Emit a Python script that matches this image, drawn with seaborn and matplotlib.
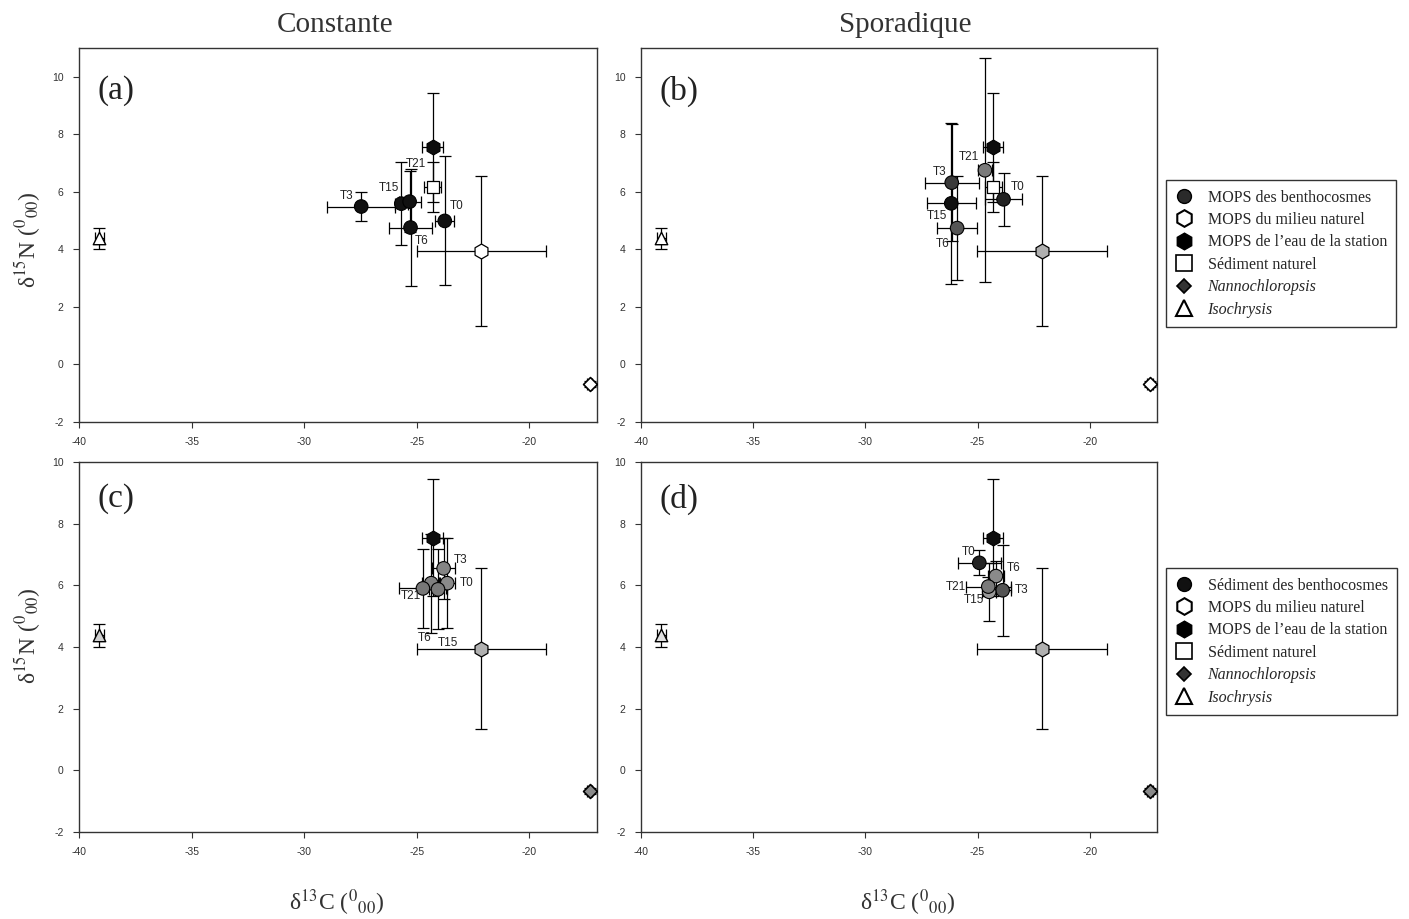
import numpy as np
import pandas as pd
import matplotlib
matplotlib.use("Agg")
import matplotlib.pyplot as plt
from matplotlib.lines import Line2D
import seaborn as sns

# ---------------- data ----------------
times = ["T0", "T3", "T6", "T15", "T21"]

# reference points (same in every panel)
station_x, station_y, station_xerr, station_yerr = -24.30, 7.55, 0.45, 1.90
sednat_x, sednat_y, sednat_xerr, sednat_yerr = -24.30, 6.17, 0.37, 0.87
milieu_x, milieu_y, milieu_xerr, milieu_yerr = -22.13, 3.95, 2.88, 2.60
nanno_x, nanno_y, nanno_xerr, nanno_yerr = -17.32, -0.67, 0.12, 0.10
iso_x, iso_y, iso_xerr, iso_yerr = -39.10, 4.38, 0.20, 0.37

# benthocosm series per panel (order: T0, T3, T6, T15, T21)
a_x = [-23.76, -27.47, -25.28, -25.69, -25.32]
a_y = [4.99, 5.49, 4.76, 5.59, 5.66]
a_xerr = [0.43, 1.50, 0.97, 0.30, 0.49]
a_yerr = [2.24, 0.51, 2.02, 1.45, 1.05]

b_x = [-23.84, -26.15, -25.91, -26.17, -24.67]
b_y = [5.74, 6.32, 4.74, 5.60, 6.75]
b_xerr = [0.81, 1.20, 0.88, 1.10, 0.30]
b_yerr = [0.92, 2.04, 1.80, 2.80, 3.90]

c_x = [-23.65, -23.81, -24.36, -24.06, -24.73]
c_y = [6.07, 6.55, 6.07, 5.87, 5.90]
c_xerr = [0.35, 0.50, 0.40, 0.40, 1.04]
c_yerr = [1.46, 1.00, 1.60, 1.30, 1.27]

d_x = [-24.92, -23.88, -24.18, -24.48, -24.52]
d_y = [6.73, 5.84, 6.30, 5.79, 5.96]
d_xerr = [0.96, 0.37, 0.35, 0.30, 1.00]
d_yerr = [0.40, 1.47, 0.50, 0.95, 0.30]

x_ticks = [-40, -35, -30, -25, -20]
y_ticks = [-2, 0, 2, 4, 6, 8, 10]

titles = ["Constante", "Sporadique"]
panel_tags = ["(a)", "(b)", "(c)", "(d)"]
legend_top = ["MOPS des benthocosmes", "MOPS du milieu naturel",
              "MOPS de l\u2019eau de la station", "Sédiment naturel",
              "Nannochloropsis", "Isochrysis"]
legend_bottom = ["Sédiment des benthocosmes", "MOPS du milieu naturel",
                 "MOPS de l\u2019eau de la station", "Sédiment naturel",
                 "Nannochloropsis", "Isochrysis"]

# ---------------- styles ----------------
sns.set_theme(style="ticks")
plt.rcParams["font.family"] = ["Liberation Sans", "DejaVu Sans"]
plt.rcParams["mathtext.fontset"] = "stix"
SERIF = ["Liberation Serif", "DejaVu Serif"]

W, H = 1409, 919
fig = plt.figure(figsize=(W / 100, H / 100), dpi=100)

def box(l, r, t, b):
    return [l / W, 1 - b / H, (r - l) / W, (b - t) / H]

axes_px = [box(79, 597, 48, 422), box(641, 1157, 48, 422),
           box(79, 597, 462, 832), box(641, 1157, 462, 832)]

bentho = [(a_x, a_y, a_xerr, a_yerr), (b_x, b_y, b_xerr, b_yerr),
          (c_x, c_y, c_xerr, c_yerr), (d_x, d_y, d_xerr, d_yerr)]
bentho_colors = [
    ["#111111"] * 5,
    ["#222222", "#3a3a3a", "#555555", "#111111", "#7a7a7a"],
    ["#8a8a8a", "#858585", "#808080", "#7a7a7a", "#777777"],
    ["#222222", "#555555", "#8a8a8a", "#999999", "#7a7a7a"],
]
milieu_fc = ["white", "#b0b0b0", "#b0b0b0", "#b0b0b0"]
nanno_fc = ["white", "white", "#8a8a8a", "#8a8a8a"]
iso_fc = ["white", "white", "#d0d0d0", "#e0e0e0"]

# label offsets in pixels (T0, T3, T6, T15, T21)
label_off = [
    [(12, 15), (-15, 11), (11, -13), (-12, 16), (6, 38)],
    [(14, 12), (-12, 11), (-14, -16), (-14, -13), (-16, 13)],
    [(19, 0), (17, 8), (-7, -55), (10, -54), (-12, -8)],
    [(-11, 11), (19, 0), (18, 8), (-15, -8), (-32, 0)],
]

err_kw = dict(fmt="none", ecolor="black", elinewidth=0.9, capsize=4,
              capthick=0.9, zorder=2)

for i, rect in enumerate(axes_px):
    ax = fig.add_axes(rect)
    bx, by, bxe, bye = bentho[i]

    # error bars
    ax.errorbar([milieu_x], [milieu_y], xerr=[milieu_xerr], yerr=[milieu_yerr], **err_kw)
    ax.errorbar([station_x], [station_y], xerr=[station_xerr], yerr=[station_yerr], **err_kw)
    if i < 2:
        ax.errorbar([sednat_x], [sednat_y], xerr=[sednat_xerr], yerr=[sednat_yerr], **err_kw)
    ax.errorbar(bx, by, xerr=bxe, yerr=bye, **err_kw)
    ax.errorbar([iso_x], [iso_y], xerr=[iso_xerr], yerr=[iso_yerr], **err_kw)
    ax.errorbar([nanno_x], [nanno_y], xerr=[nanno_xerr], yerr=[nanno_yerr], **err_kw)

    # markers via seaborn
    sns.scatterplot(x=[milieu_x], y=[milieu_y], ax=ax, marker="h", s=115,
                    color=milieu_fc[i], edgecolor="black", linewidth=0.9, zorder=3)
    if i < 2:
        sns.scatterplot(x=[sednat_x], y=[sednat_y], ax=ax, marker="s", s=75,
                        color="white", edgecolor="black", linewidth=0.9, zorder=3)
    df = pd.DataFrame({"x": bx, "y": by, "t": times})
    sns.scatterplot(data=df, x="x", y="y", hue="t", ax=ax, marker="o", s=95,
                    palette=dict(zip(times, bentho_colors[i])), edgecolor="black",
                    linewidth=0.8, legend=False, zorder=4)
    sns.scatterplot(x=[station_x], y=[station_y], ax=ax, marker="h", s=115,
                    color="#0d0d0d", edgecolor="black", linewidth=0.8, zorder=5)
    sns.scatterplot(x=[nanno_x], y=[nanno_y], ax=ax, marker="D", s=50,
                    color=nanno_fc[i], edgecolor="black", linewidth=1.2, zorder=3)
    sns.scatterplot(x=[iso_x], y=[iso_y], ax=ax, marker="^", s=80,
                    color=iso_fc[i], edgecolor="black", linewidth=1.0, zorder=3)

    for t, xx, yy, off in zip(times, bx, by, label_off[i]):
        ax.annotate(t, (xx, yy), xytext=off, textcoords="offset pixels",
                    ha="center", va="center", fontsize=8.5, color="#222222",
                    zorder=6)

    ax.set_xlim(-40, -17)
    ax.set_ylim(-2, 11 if i < 2 else 10)
    ax.set_xticks(x_ticks)
    ax.set_yticks(y_ticks)
    ax.set_xticklabels([str(v) for v in x_ticks])
    ax.set_yticklabels([str(v) for v in y_ticks])
    ax.tick_params(labelsize=7.5, colors="#333333", length=4, width=0.8,
                   direction="out", pad=7)
    ax.set_xlabel("")
    ax.set_ylabel("")
    for sp in ax.spines.values():
        sp.set_visible(True)
        sp.set_color("#333333")
        sp.set_linewidth(1.0)
    ax.text(0.036, 0.885 if i < 2 else 0.9, panel_tags[i], transform=ax.transAxes,
            fontsize=24, family=SERIF, ha="left", va="center", color="#222222")

# titles
for j, xc in enumerate([335, 905]):
    fig.text(xc / W, 1 - 25 / H, titles[j], ha="center", va="center",
             fontsize=21, family=SERIF, color="#333333")

# axis labels
ylab = "\u03b4$^{15}$N (${}^{0}{}_{00}$)"
xlab = "\u03b4$^{13}$C (${}^{0}{}_{00}$)"
for yc in [240, 636]:
    fig.text(28 / W, 1 - yc / H, ylab, rotation=90, ha="center", va="center",
             fontsize=17, family=SERIF, color="#333333")
for xc in [337, 908]:
    fig.text(xc / W, 1 - 903 / H, xlab, ha="center", va="center",
             fontsize=17, family=SERIF, color="#333333")

# legends
def handles(first_color):
    return [
        Line2D([], [], ls="none", marker="o", ms=10, mfc=first_color, mec="black"),
        Line2D([], [], ls="none", marker="h", ms=12, mfc="white", mec="black", mew=1.5),
        Line2D([], [], ls="none", marker="h", ms=12, mfc="black", mec="black"),
        Line2D([], [], ls="none", marker="s", ms=11, mfc="white", mec="black", mew=1.2),
        Line2D([], [], ls="none", marker="D", ms=7, mfc="#333333", mec="black", mew=1.2),
        Line2D([], [], ls="none", marker="^", ms=11, mfc="white", mec="black", mew=1.5),
    ]

for labels, ytop, fc in [(legend_top, 180, "#2a2a2a"), (legend_bottom, 568, "#111111")]:
    leg = fig.legend(handles(fc), labels, loc="upper left",
                     bbox_to_anchor=(1166 / W, 1 - ytop / H),
                     frameon=True, fancybox=False, edgecolor="black",
                     prop={"family": SERIF, "size": 11.5},
                     labelspacing=0.4, handlelength=1.1, handletextpad=0.9,
                     borderpad=0.6, borderaxespad=0)
    leg.get_frame().set_linewidth(1.0)
    for t in leg.get_texts()[4:]:
        t.set_fontstyle("italic")

fig.savefig("out.png", dpi=100)
